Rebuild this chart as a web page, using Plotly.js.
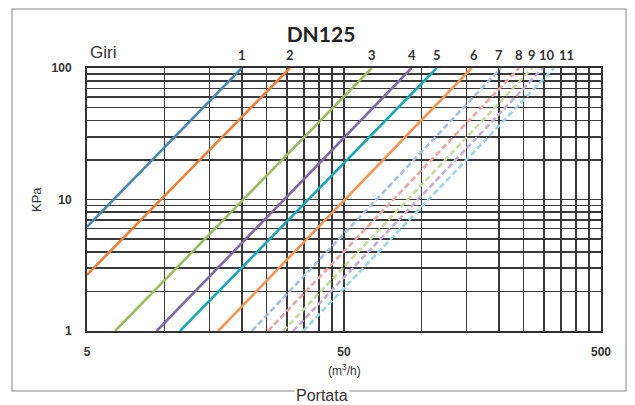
<!DOCTYPE html>
<html>
<head>
<meta charset="utf-8">
<script src="https://cdn.plot.ly/plotly-3.0.1.min.js"></script>
<style>html,body{margin:0;padding:0;background:#fff;}#chart{width:635px;height:405px;}</style>
</head>
<body>
<div id="chart"></div>
<script>
// Giri (turns) labels
const giri = ['1','2','3','4','5','6','7','8','9','10','11'];
// start point of each curve (Portata m3/h, KPa)
const qStart = [5, 5, 6.43, 9.33, 11.5, 16.2, 21.9, 25.3, 29.0, 31.7, 34.7];
const dpStart = [6.2, 2.67, 1, 1, 1, 1, 1, 1, 1, 1, 1];
// end point of each curve
const qEnd = [20, 30.8, 64.1, 91.6, 114.8, 157, 204, 240, 270, 297, 328];
const dpEnd = [100, 100, 100, 100, 100, 100, 100, 100, 100, 100, 100];
// axis ticks
const xTicks = [5, 50, 500];
const xTickText = ['5', '50', '500'];
const yTicks = [1, 10, 100];
const yTickText = ['1', '10', '100'];
const xGrid = [10, 15, 20, 25, 30, 35, 40, 45, 100, 150, 200, 250, 300, 350, 400, 450];
const yGrid = [2, 3, 4, 5, 6, 7, 8, 9, 20, 30, 40, 50, 60, 70, 80, 90];

const colors = ['#4a88b4', '#e8803c', '#9dba68', '#8067a6', '#1ea6b6', '#f09656',
                '#a6bfe0', '#e8a6a6', '#c6daa0', '#bfaed6', '#9fd6e6'];
const dashes = ['solid','solid','solid','solid','solid','solid','6px,3px','6px,3px','6px,3px','6px,3px','6px,3px'];
const labelShift = [0,0,0,0,0,2,-2,0,0,4,13];

const traces = giri.map((g, i) => ({
  type: 'scatter', mode: 'lines', name: g,
  x: [qStart[i], qEnd[i]], y: [dpStart[i], dpEnd[i]],
  line: {color: colors[i], width: 2.6, dash: dashes[i]},
  hoverinfo: 'skip'
}));

const tickFont = {family: 'Liberation Sans, Arial, sans-serif', size: 12, color: '#333', weight: 'bold'};

const annotations = giri.map((g, i) => ({
  x: Math.log10(qEnd[i]), y: 1, xref: 'x', yref: 'paper',
  yanchor: 'bottom', yshift: 3, xshift: labelShift[i],
  text: '<b>' + g + '</b>', showarrow: false,
  font: {family: 'Lato, Liberation Sans, sans-serif', size: 13, color: '#333'}
}));
annotations.push(
  {x: 0.002, y: 1, xref: 'paper', yref: 'paper', xanchor: 'left', yanchor: 'bottom', yshift: 4,
   text: 'Giri', showarrow: false, bgcolor: '#fff',
   font: {family: 'Liberation Sans, Arial, sans-serif', size: 17, color: '#333'}},
  {x: (344-87)/514, y: -(370-331)/263, xref: 'paper', yref: 'paper', xanchor: 'center', yanchor: 'middle',
   text: '(m<sup>3</sup>/h)', showarrow: false,
   font: {family: 'Liberation Sans, Arial, sans-serif', size: 12, color: '#333'}},
  {x: (36-87)/514, y: (331-200)/263, xref: 'paper', yref: 'paper', xanchor: 'center', yanchor: 'middle',
   text: 'KPa', textangle: -90, showarrow: false,
   font: {family: 'Liberation Sans, Arial, sans-serif', size: 13, color: '#333'}},
  {x: (322-87)/514, y: -(395-331)/263, xref: 'paper', yref: 'paper', xanchor: 'center', yanchor: 'middle',
   text: 'Portata', showarrow: false, bgcolor: '#fff', borderpad: 1,
   font: {family: 'Liberation Sans, Arial, sans-serif', size: 16, color: '#333'}}
);

const layout = {
  width: 635, height: 405,
  margin: {l: 87, r: 34, t: 68, b: 74},
  paper_bgcolor: '#fff', plot_bgcolor: '#fff',
  showlegend: false,
  title: {text: '<b>DN125</b>', x: 321/635, xanchor: 'center', y: 1 - 35/405, yanchor: 'middle',
          font: {family: 'Lato, Liberation Sans, sans-serif', size: 21, color: '#222'}},
  xaxis: {
    type: 'log', range: [Math.log10(5), Math.log10(500)],
    tickmode: 'array', tickvals: xTicks, ticktext: xTickText,
    ticks: '', ticklabelstandoff: 9, tickfont: tickFont,
    showgrid: true, gridcolor: '#3a3a3a', gridwidth: 1.6,
    minor: {tickmode: 'array', tickvals: xGrid, showgrid: true, gridcolor: '#3a3a3a', gridwidth: 1.6, ticks: ''},
    showline: true, linecolor: '#333', linewidth: 2, mirror: true, zeroline: false, fixedrange: true
  },
  yaxis: {
    type: 'log', range: [0, 2],
    tickmode: 'array', tickvals: yTicks, ticktext: yTickText,
    ticks: '', ticklabelstandoff: 11, tickfont: tickFont,
    showgrid: true, gridcolor: '#3a3a3a', gridwidth: 1.6,
    minor: {tickmode: 'array', tickvals: yGrid, showgrid: true, gridcolor: '#3a3a3a', gridwidth: 1.6, ticks: ''},
    showline: true, linecolor: '#333', linewidth: 2, mirror: true, zeroline: false, fixedrange: true
  },
  shapes: [{
    type: 'rect', xref: 'paper', yref: 'paper', layer: 'below',
    x0: (12-87)/514, x1: (626-87)/514, y0: -(391-331)/263, y1: 1 + (68-9)/263,
    line: {color: '#b0b0b0', width: 1.5}, fillcolor: 'rgba(0,0,0,0)'
  }],
  annotations: annotations
};

Plotly.newPlot('chart', traces, layout, {displayModeBar: false, staticPlot: true});
</script>
</body>
</html>
